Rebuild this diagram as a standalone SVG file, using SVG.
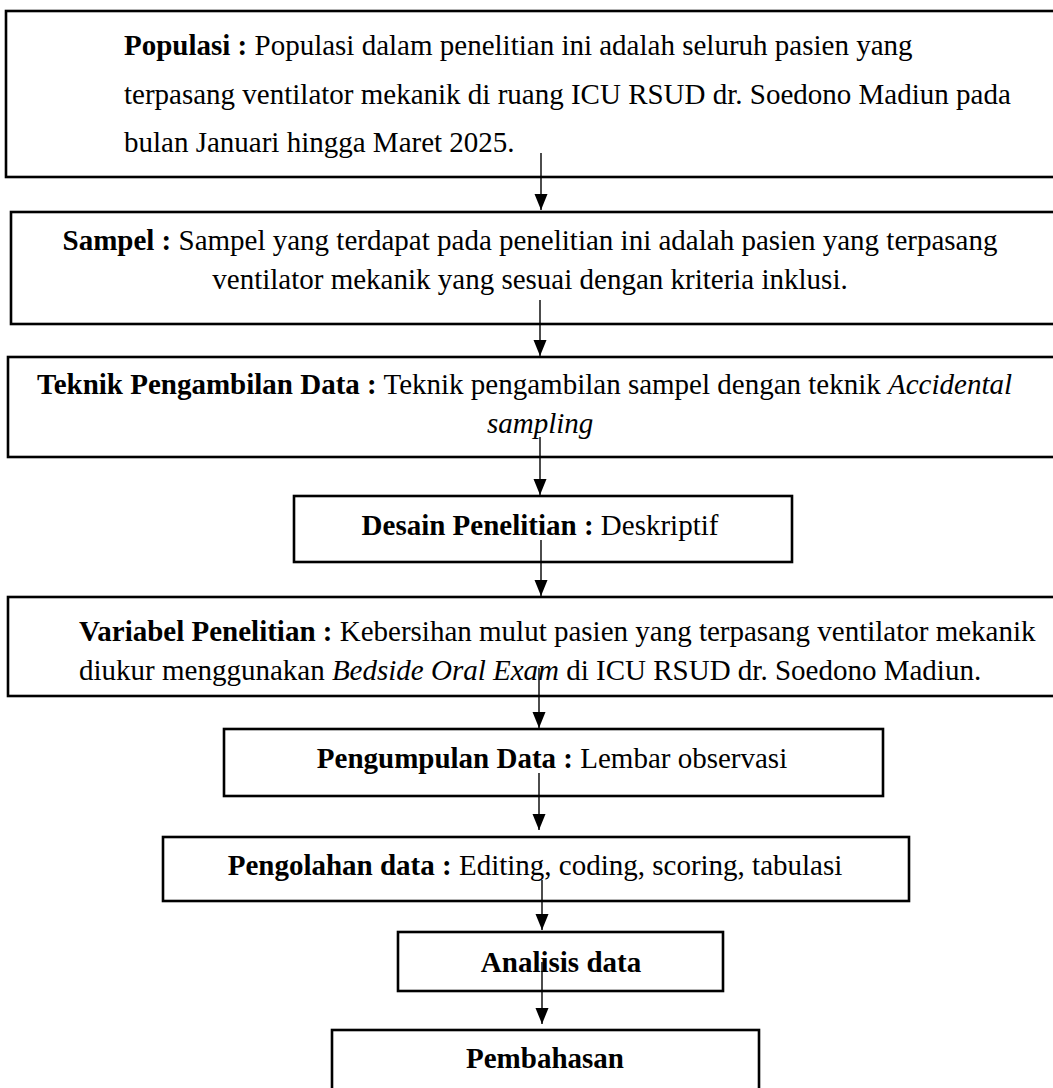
<svg xmlns="http://www.w3.org/2000/svg" width="1053" height="1088" viewBox="0 0 1053 1088">
<style>
  .box { fill: #ffffff; stroke: #000000; stroke-width: 2.6; }
  .t { font-family: "Liberation Serif", "Times New Roman", serif; font-size: 29px; fill: #000000; }
  .b { font-weight: bold; }
  .i { font-style: italic; }
  .c { text-anchor: middle; }
  .conn { stroke: #000000; stroke-width: 1.4; fill: none; marker-end: url(#arrow); }
</style>
<defs>
  <marker id="arrow" viewBox="0 -7 16 14" refX="16" refY="0" markerWidth="16" markerHeight="14" markerUnits="userSpaceOnUse" orient="auto">
    <path d="M0,-6.5 L16,0 L0,6.5 z" fill="#000000"/>
  </marker>
</defs>
<rect width="1053" height="1088" fill="#ffffff"/>

<g id="node-populasi">
  <rect class="box" x="6" y="11" width="1060" height="166"/>
  <text class="t" x="124" y="55"><tspan class="b">Populasi :</tspan> Populasi dalam penelitian ini adalah seluruh pasien yang</text>
  <text class="t" x="124" y="104">terpasang ventilator mekanik di ruang ICU RSUD dr. Soedono Madiun pada</text>
  <text class="t" x="124" y="152">bulan Januari hingga Maret 2025.</text>
</g>

<g id="node-sampel">
  <rect class="box" x="11" y="212" width="1060" height="112"/>
  <text class="t c" x="530" y="250"><tspan class="b">Sampel :</tspan> Sampel yang terdapat pada penelitian ini adalah pasien yang terpasang</text>
  <text class="t c" x="530" y="289">ventilator mekanik yang sesuai dengan kriteria inklusi.</text>
</g>

<g id="node-teknik">
  <rect class="box" x="8" y="357" width="1060" height="100"/>
  <text class="t" x="37" y="394"><tspan class="b">Teknik Pengambilan Data :</tspan> Teknik pengambilan sampel dengan teknik <tspan class="i">Accidental</tspan></text>
  <text class="t i" x="487" y="433">sampling</text>
</g>

<g id="node-desain">
  <rect class="box" x="294" y="496" width="498" height="66"/>
  <text class="t c" x="540" y="535"><tspan class="b">Desain Penelitian :</tspan> Deskriptif</text>
</g>

<g id="node-variabel">
  <rect class="box" x="8" y="597" width="1060" height="99"/>
  <text class="t" x="79" y="641"><tspan class="b">Variabel Penelitian :</tspan> Kebersihan mulut pasien yang terpasang ventilator mekanik</text>
  <text class="t" x="79" y="680">diukur menggunakan <tspan class="i">Bedside Oral Exam</tspan> di ICU RSUD dr. Soedono Madiun.</text>
</g>

<g id="node-pengumpulan">
  <rect class="box" x="224" y="729" width="659" height="67"/>
  <text class="t c" x="552" y="768"><tspan class="b">Pengumpulan Data :</tspan> Lembar observasi</text>
</g>

<g id="node-pengolahan">
  <rect class="box" x="163" y="837" width="746" height="64"/>
  <text class="t c" x="535" y="875"><tspan class="b">Pengolahan data :</tspan> Editing, coding, scoring, tabulasi</text>
</g>

<g id="node-analisis">
  <rect class="box" x="398" y="932" width="325" height="59"/>
  <text class="t c b" x="561" y="972">Analisis data</text>
</g>

<g id="node-pembahasan">
  <rect class="box" x="332" y="1030" width="427" height="80"/>
  <text class="t c b" x="545" y="1068">Pembahasan</text>
</g>

<g id="connectors">
  <line class="conn" x1="541" y1="153" x2="541" y2="210"/>
  <line class="conn" x1="540" y1="300" x2="540" y2="356"/>
  <line class="conn" x1="540" y1="437" x2="540" y2="495"/>
  <line class="conn" x1="541" y1="540" x2="541" y2="596"/>
  <line class="conn" x1="539" y1="668" x2="539" y2="728"/>
  <line class="conn" x1="539" y1="773" x2="539" y2="830"/>
  <line class="conn" x1="542" y1="880" x2="542" y2="930"/>
  <line class="conn" x1="542" y1="962" x2="542" y2="1024"/>
</g>
</svg>
